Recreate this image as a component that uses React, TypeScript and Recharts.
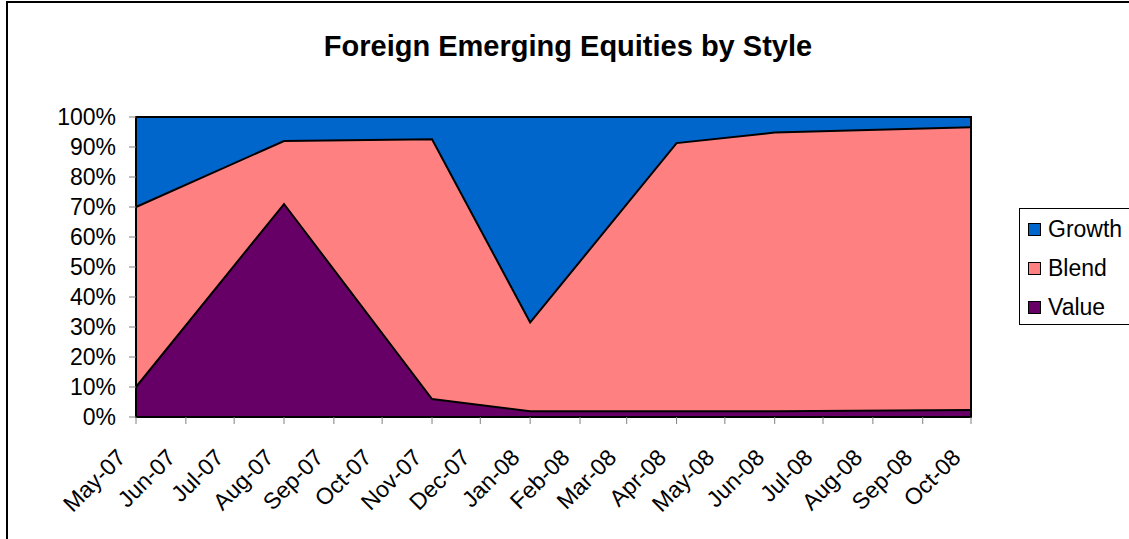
import {
  AreaChart,
  Area,
  XAxis,
  YAxis,
  Legend,
  ReferenceArea,
} from 'recharts';

const FONT = '"Liberation Sans", Arial, Helvetica, sans-serif';

// observation dates (first of month) and the three style shares, in percent
const obsDates = ['2007-05-01', '2007-08-01', '2007-11-01', '2008-01-01', '2008-04-01', '2008-06-01', '2008-10-01'];
const valueShare = [10, 71, 6, 1.9, 1.9, 1.9, 2.3];
const blendShare = [60, 21, 86.6, 29.6, 89.4, 92.9, 94.3];
const growthShare = [30, 8, 7.4, 68.5, 8.7, 5.2, 3.4];

// monthly date axis
const tickDates = [
  '2007-05-01', '2007-06-01', '2007-07-01', '2007-08-01', '2007-09-01', '2007-10-01',
  '2007-11-01', '2007-12-01', '2008-01-01', '2008-02-01', '2008-03-01', '2008-04-01',
  '2008-05-01', '2008-06-01', '2008-07-01', '2008-08-01', '2008-09-01', '2008-10-01',
];
const tickLabels = [
  'May-07', 'Jun-07', 'Jul-07', 'Aug-07', 'Sep-07', 'Oct-07',
  'Nov-07', 'Dec-07', 'Jan-08', 'Feb-08', 'Mar-08', 'Apr-08',
  'May-08', 'Jun-08', 'Jul-08', 'Aug-08', 'Sep-08', 'Oct-08',
];
const yTicks = [0, 10, 20, 30, 40, 50, 60, 70, 80, 90, 100];

// bottom-to-top stacking order
const series = [
  { key: 'Value', color: '#660066' },
  { key: 'Blend', color: '#FF8080' },
  { key: 'Growth', color: '#0066CC' },
];

const toTime = (d: string) => new Date(d).getTime();
const tickTimes = tickDates.map(toTime);
const labelByTime: Record<number, string> = {};
tickTimes.forEach((t, i) => (labelByTime[t] = tickLabels[i]));

const data = obsDates.map((d, i) => ({
  t: toTime(d),
  Value: valueShare[i],
  Blend: blendShare[i],
  Growth: growthShare[i],
}));

function DateTick(props: any) {
  const { x, y, payload } = props;
  const ax = x - 9;
  const ay = y + 35;
  return (
    <text
      x={ax}
      y={ay}
      transform={`rotate(-45, ${ax}, ${ay})`}
      textAnchor="end"
      fontSize={23}
      fontFamily={FONT}
      fill="#000"
    >
      {labelByTime[payload.value]}
    </text>
  );
}

function StyleLegend() {
  const items = [...series].reverse();
  return (
    <div
      style={{
        width: 115,
        height: 117,
        boxSizing: 'border-box',
        border: '1px solid #000',
        background: '#fff',
        position: 'relative',
        fontFamily: FONT,
        fontSize: 23,
      }}
    >
      {items.map((s, i) => (
        <div
          key={s.key}
          style={{
            position: 'absolute',
            left: 8,
            top: 20 + i * 39 - 13,
            height: 26,
            display: 'flex',
            alignItems: 'center',
            whiteSpace: 'nowrap',
            lineHeight: '26px',
          }}
        >
          <span
            style={{
              display: 'inline-block',
              width: 13,
              height: 13,
              boxSizing: 'border-box',
              background: s.color,
              border: '1px solid #000',
              marginRight: 7,
            }}
          />
          <span>{s.key}</span>
        </div>
      ))}
    </div>
  );
}

export default function App() {
  const t0 = tickTimes[0];
  const t1 = tickTimes[tickTimes.length - 1];
  return (
    <div
      style={{
        position: 'fixed',
        left: 0,
        top: 0,
        width: 1129,
        height: 539,
        background: '#fff',
        overflow: 'hidden',
      }}
    >
      <div
        style={{
          position: 'absolute',
          left: 6,
          top: 1,
          width: 1200,
          height: 600,
          borderLeft: '2px solid #000',
          borderTop: '2px solid #000',
        }}
      />
      <svg width={1129} height={80} style={{ position: 'absolute', left: 0, top: 0 }}>
        <text
          x={568}
          y={56}
          textAnchor="middle"
          fontFamily={FONT}
          fontSize={29}
          fontWeight="bold"
          fill="#000"
        >
          Foreign Emerging Equities by Style
        </text>
      </svg>
      <div style={{ position: 'absolute', left: 0, top: 0 }}>
        <AreaChart
          width={1129}
          height={539}
          data={data}
          margin={{ top: 117, right: 158, bottom: 22, left: 56 }}
        >
          <XAxis
            type="number"
            dataKey="t"
            domain={[t0, t1]}
            ticks={tickTimes}
            interval={0}
            tick={<DateTick />}
            tickSize={7}
            tickMargin={0}
            height={100}
            axisLine={false}
            tickLine={{ stroke: '#808080' }}
          />
          <YAxis
            type="number"
            domain={[0, 100]}
            ticks={yTicks}
            interval={0}
            width={80}
            tickSize={7}
            tickMargin={13}
            tickFormatter={(v: number) => `${v}%`}
            tick={{ fontSize: 23, fill: '#000', fontFamily: FONT }}
            axisLine={false}
            tickLine={{ stroke: '#808080' }}
          />
          {/* filled bands first */}
          {series.map((s) => (
            <Area
              key={`fill-${s.key}`}
              type="linear"
              dataKey={s.key}
              stackId="fill"
              fill={s.color}
              fillOpacity={1}
              stroke="none"
              legendType="none"
              isAnimationActive={false}
            />
          ))}
          {/* outlines on top so no band covers them */}
          {series.map((s) => (
            <Area
              key={`line-${s.key}`}
              type="linear"
              dataKey={s.key}
              stackId="line"
              fill="none"
              fillOpacity={0}
              stroke="#000"
              strokeWidth={2}
              legendType="none"
              isAnimationActive={false}
            />
          ))}
          <ReferenceArea
            x1={t0}
            x2={t1}
            y1={0}
            y2={100}
            fill="none"
            fillOpacity={0}
            stroke="#000"
            strokeWidth={2}
            ifOverflow="visible"
          />
          <Legend
            layout="horizontal"
            align="center"
            verticalAlign="middle"
            wrapperStyle={{ left: 1019, top: 208, width: 115, height: 117 }}
            content={() => <StyleLegend />}
          />
        </AreaChart>
      </div>
    </div>
  );
}
